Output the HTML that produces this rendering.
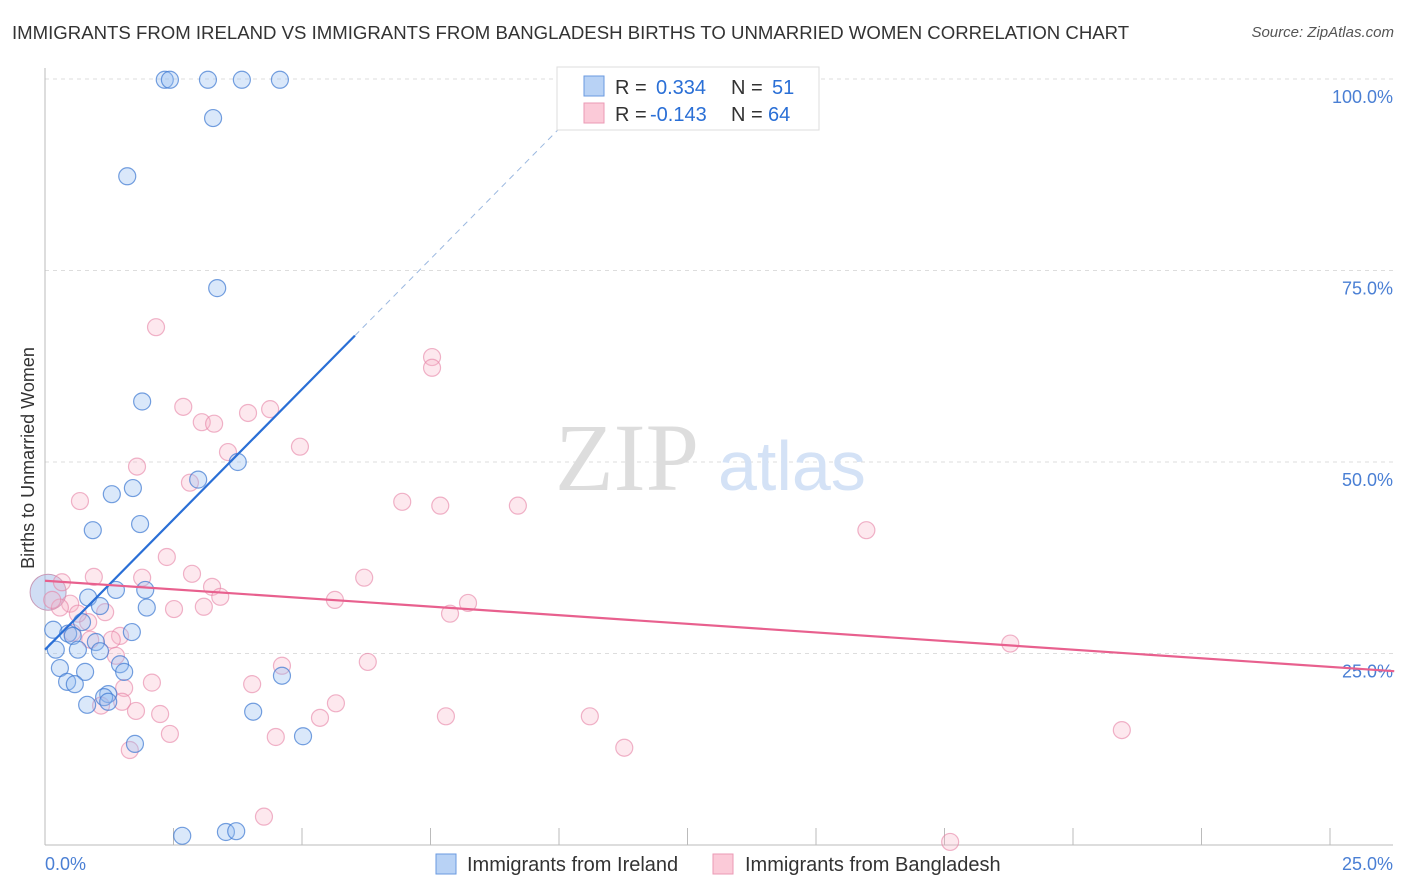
<!DOCTYPE html>
<html><head><meta charset="utf-8">
<style>
body{margin:0;background:#fff;font-family:"Liberation Sans",sans-serif;}
#wrap{position:relative;width:1406px;height:892px;overflow:hidden}
.t{position:absolute;white-space:nowrap}
</style></head>
<body><div id="wrap">
<div class="t" style="left:12px;top:22px;font-size:18.6px;color:#333">IMMIGRANTS FROM IRELAND VS IMMIGRANTS FROM BANGLADESH BIRTHS TO UNMARRIED WOMEN CORRELATION CHART</div>
<div class="t" style="right:12px;top:24px;font-size:15px;color:#555;font-style:italic">Source: ZipAtlas.com</div>
<svg id="svg" width="1406" height="892" style="position:absolute;left:0;top:0"></svg>
</div>
<script>
const blueX=[2.33,2.43,3.17,3.83,4.57,3.27,1.60,3.35,1.89,3.75,2.98,1.71,1.30,1.85,0.93,1.95,1.38,0.84,1.07,1.98,0.72,1.69,0.16,0.45,0.54,0.99,0.64,1.07,0.21,0.29,0.78,1.46,1.54,0.43,0.58,1.23,1.15,1.23,0.82,4.61,1.75,4.05,5.02,2.67,3.52,3.72];
const blueY=[99.9,99.9,99.9,99.9,99.9,94.9,87.3,72.7,57.9,50.0,47.7,46.6,45.8,41.9,41.1,33.3,33.3,32.3,31.2,31.0,29.1,27.8,28.1,27.6,27.3,26.5,25.5,25.3,25.5,23.1,22.6,23.6,22.6,21.3,21.0,19.7,19.3,18.7,18.3,22.1,13.2,17.4,14.2,1.2,1.7,1.8];
const pinkX=[2.16,7.53,7.53,1.79,2.69,3.05,3.29,3.95,4.38,4.96,3.56,2.82,0.68,6.95,7.69,9.20,15.98,2.37,2.86,0.95,1.89,6.21,3.25,3.41,5.64,8.23,0.49,1.17,2.51,3.09,7.88,0.29,0.84,1.46,1.30,0.88,0.53,18.78,1.38,4.61,6.28,1.54,2.08,4.03,1.50,1.09,5.66,1.77,2.24,5.35,7.80,10.60,2.43,4.49,1.65,11.27,20.95,4.26,17.61,0.14,0.33,0.64];
const pinkY=[67.6,63.7,62.3,49.4,57.2,55.2,55.0,56.4,56.9,52.0,51.3,47.3,44.9,44.8,44.3,44.3,41.1,37.6,35.4,35.0,34.9,34.9,33.7,32.4,32.0,31.6,31.5,30.4,30.8,31.1,30.2,31.0,29.1,27.3,26.8,26.8,27.7,26.3,24.7,23.4,23.9,20.5,21.2,21.0,18.7,18.2,18.5,17.5,17.1,16.6,16.8,16.8,14.5,14.1,12.4,12.7,15.0,3.7,0.4,32.0,34.3,30.2];
const blueLine=[25.5,6.8]; // intercept, slope
const pinkLine=[34.5,-0.45];
const yTicks=[25,50,75,100];
const yTickLabels=["25.0%","50.0%","75.0%","100.0%"];
const xs=v=>45+v/25*1285, ys=v=>845-v/100*766;
const svg=document.getElementById('svg');const NS='http://www.w3.org/2000/svg';
function mk(tag,attrs,name){const e=document.createElementNS(NS,tag);for(const k in attrs)e.setAttribute(k,attrs[k]);


svg.appendChild(e);return e;}
yTicks.forEach((v,i)=>{mk('line',{x1:45,x2:1393,y1:ys(v),y2:ys(v),stroke:'#ddd','stroke-dasharray':'4,4'},'gridline');
const t=mk('text',{x:1393,y:ys(v)+24,'text-anchor':'end','font-size':18,fill:'#4a7fd4','font-family':'Liberation Sans'},'y-tick-label');t.textContent=yTickLabels[i];});
mk('line',{x1:45,x2:45,y1:68,y2:845,stroke:'#bbb'},'y-axis');
mk('line',{x1:45,x2:1393,y1:845,y2:845,stroke:'#bbb'},'x-axis');
for(let i=0;i<=10;i++){mk('line',{x1:xs(i*2.5),x2:xs(i*2.5),y1:828,y2:845,stroke:'#bbb'},'x-tick');}
let t=mk('text',{x:45,y:870,'font-size':18,fill:'#4a7fd4','font-family':'Liberation Sans'},'x-min-label');t.textContent='0.0%';
t=mk('text',{x:1393,y:870,'text-anchor':'end','font-size':18,fill:'#4a7fd4','font-family':'Liberation Sans'},'x-max-label');t.textContent='25.0%';
t=mk('text',{x:34,y:458,transform:'rotate(-90 34 458)','text-anchor':'middle','font-size':18,fill:'#333','font-family':'Liberation Sans'},'y-axis-title');t.textContent='Births to Unmarried Women';
t=mk('text',{x:555,y:490,'font-size':96,fill:'#ddd','font-family':'Liberation Serif'},'watermark-zip');t.textContent='ZIP';
t=mk('text',{x:718,y:490,'font-size':70,fill:'#d4e2f6','font-family':'Liberation Sans'},'watermark-atlas');t.textContent='atlas';
mk('circle',{cx:xs(0.06),cy:ys(33),r:18,fill:'rgba(150,180,230,0.45)',stroke:'#c89ab8'},'big-point');
pinkX.forEach((x,i)=>mk('circle',{cx:xs(x),cy:ys(pinkY[i]),r:8.5,fill:'rgba(248,180,200,0.3)',stroke:'rgba(230,130,165,0.6)','stroke-width':1.2},'bangladesh-point'));
blueX.forEach((x,i)=>mk('circle',{cx:xs(x),cy:ys(blueY[i]),r:8.5,fill:'rgba(150,190,240,0.35)',stroke:'rgba(60,120,210,0.7)','stroke-width':1.2},'ireland-point'));
const bx1=(66.5-blueLine[0])/blueLine[1], bx2=(100-blueLine[0])/blueLine[1];
mk('line',{x1:xs(0),y1:ys(blueLine[0]),x2:xs(bx1),y2:ys(blueLine[0]+blueLine[1]*bx1),stroke:'#2a6fd6','stroke-width':2.2},'ireland-trend');
mk('line',{x1:xs(bx1),y1:ys(blueLine[0]+blueLine[1]*bx1),x2:xs(bx2),y2:ys(100),stroke:'#9bb8e0','stroke-width':1,'stroke-dasharray':'6,5'},'ireland-trend-ext');
mk('line',{x1:xs(0),y1:ys(pinkLine[0]),x2:xs(26.25),y2:ys(pinkLine[0]+pinkLine[1]*26.25),stroke:'#e8608e','stroke-width':2.2},'bangladesh-trend');
mk('rect',{x:557,y:67,width:262,height:63,fill:'#fff',stroke:'#ddd'},'legend-box');
mk('rect',{x:584,y:76,width:20,height:20,fill:'#b8d2f5',stroke:'#6a9ae0'},'legend-swatch-ireland');
mk('rect',{x:584,y:103,width:20,height:20,fill:'#fbcad8',stroke:'#eb9ab5'},'legend-swatch-bangladesh');
function lt(x,y,s,c,n){const e=mk('text',{x:x,y:y,'font-size':20,fill:c,'font-family':'Liberation Sans'},n);e.textContent=s;}
lt(615,94,'R =','#333','legend-r-label');lt(656,94,'0.334','#2a6fd6','legend-r-ireland');lt(731,94,'N =','#333','legend-n-label');lt(772,94,'51','#2a6fd6','legend-n-ireland');
lt(615,121,'R =','#333','legend-r-label');lt(650,121,'-0.143','#2a6fd6','legend-r-bangladesh');lt(731,121,'N =','#333','legend-n-label');lt(768,121,'64','#2a6fd6','legend-n-bangladesh');
mk('rect',{x:436,y:854,width:20,height:20,fill:'#b8d2f5',stroke:'#6a9ae0'},'bottom-legend-swatch-ireland');
lt(467,871,'Immigrants from Ireland','#333','bottom-legend-ireland');
mk('rect',{x:713,y:854,width:20,height:20,fill:'#fbcad8',stroke:'#eb9ab5'},'bottom-legend-swatch-bangladesh');
lt(745,871,'Immigrants from Bangladesh','#333','bottom-legend-bangladesh');
</script></body></html>
